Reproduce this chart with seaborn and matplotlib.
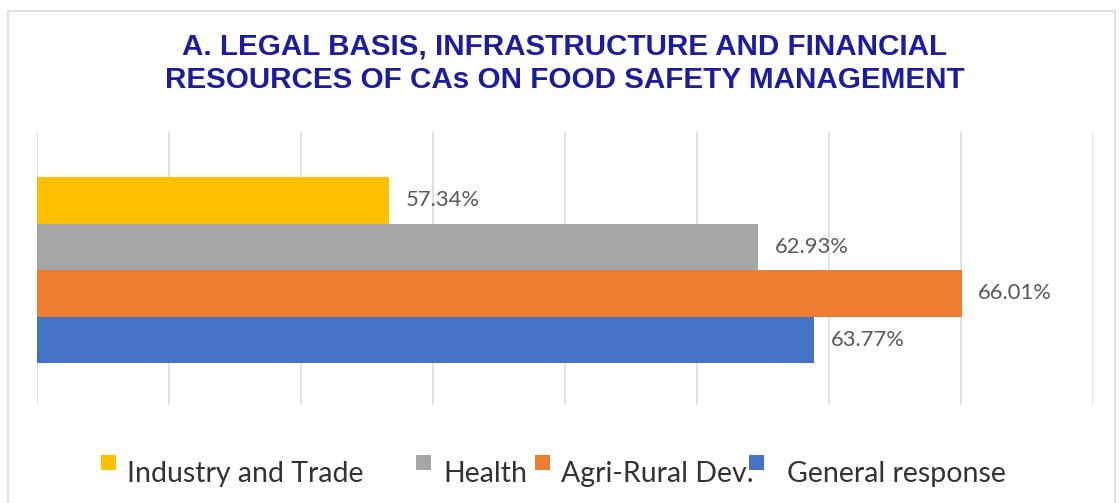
import matplotlib
matplotlib.use("Agg")
import matplotlib.pyplot as plt
from matplotlib.patches import Rectangle
from matplotlib.legend_handler import HandlerPatch
import pandas as pd
import seaborn as sns

# Data
groups = ["Industry and Trade", "Health", "Agri-Rural Dev.", "General response"]
values = [57.34, 62.93, 66.01, 63.77]
colors = ["#FFC000", "#A5A5A5", "#ED7D31", "#4472C4"]
title = "A. LEGAL BASIS, INFRASTRUCTURE AND FINANCIAL\nRESOURCES OF CAs ON FOOD SAFETY MANAGEMENT"

sns.set_style("white")
plt.rcParams["font.family"] = ["Lato", "DejaVu Sans"]

df = pd.DataFrame({"group": groups, "value": values})

W, H = 1120, 503
fig = plt.figure(figsize=(W / 100, H / 100), dpi=100)
ax = fig.add_axes([37 / W, 1 - 405 / H, (1093 - 37) / W, (405 - 132) / H])

sns.barplot(data=df, x="value", y="group", hue="group", order=groups,
            hue_order=groups, palette=colors, saturation=1, width=1,
            errorbar=None, legend=False, linewidth=0, orient="h", ax=ax)

ax.set_xlim(52, 68)
ax.set_ylim(4.4, -1.47)
ax.set_xticks(range(52, 69, 2))
ax.set_xticklabels([])
ax.set_yticks([])
ax.set_xlabel("")
ax.set_ylabel("")
ax.tick_params(length=0)
ax.grid(axis="x", color="#D9D9D9", linewidth=1.1)
ax.set_axisbelow(True)
for s in ax.spines.values():
    s.set_visible(False)

for cont in ax.containers:
    ax.bar_label(cont, fmt="%.2f%%", padding=12, fontsize=15.8,
                 color="#595959")

# chart frame
fig.patches.append(Rectangle((8 / W, -0.1), (1115 - 8) / W, 1.1 - 11 / H,
                             transform=fig.transFigure, fill=False,
                             edgecolor="#D9D9D9", linewidth=1.2))

fig.text(565 / W, 1 - 63 / H, title, ha="center", va="center",
         fontsize=21.3, fontweight="bold", color="#1C1C9E",
         family=["Liberation Sans", "DejaVu Sans"], linespacing=1.24)

SQ = 10.8  # legend square side, points


def raised_square(legend, orig_handle, xdescent, ydescent, width, height, fontsize):
    return Rectangle((-xdescent, -ydescent + 8.6), SQ, SQ)


# legend entry placement (pixels): square left edge, text left edge
marker_x = [101, 416, 535, 749]
text_x = [127, 443, 561, 787]
fs = 20.5
for g, c, mx, tx in zip(groups, colors, marker_x, text_x):
    h = Rectangle((0, 0), 1, 1, facecolor=c, edgecolor="none")
    pad_pt = (tx - mx) * 72 / 100 - SQ
    fig.legend([h], [g], loc="center left",
               bbox_to_anchor=(mx / W, 1 - 474 / H),
               frameon=False, fontsize=fs, borderpad=0, borderaxespad=0,
               handlelength=SQ / fs, handletextpad=pad_pt / fs,
               labelcolor="#333333",
               handler_map={Rectangle: HandlerPatch(patch_func=raised_square)})

fig.savefig("out.png", dpi=100)
